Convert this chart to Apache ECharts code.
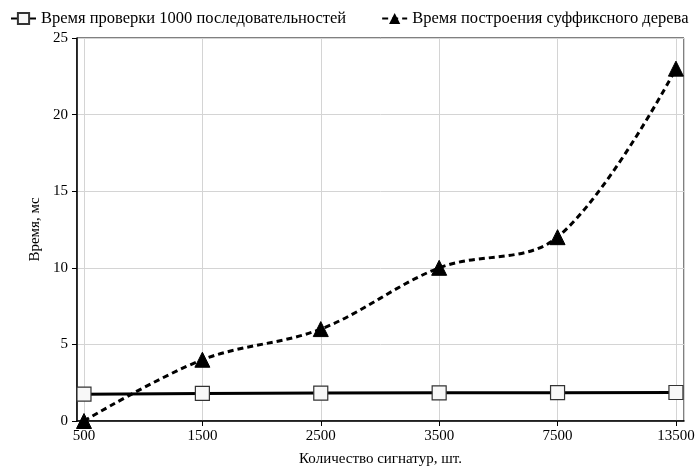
<!DOCTYPE html>
<html>
<head>
<meta charset="utf-8">
<script src="https://cdn.jsdelivr.net/npm/echarts@6/dist/echarts.min.js"></script>
<style>
html,body{margin:0;padding:0;background:#fff;}
#main{width:696px;height:468px;}
</style>
</head>
<body>
<div id="main"></div>
<script>
var categories = ['500', '1500', '2500', '3500', '7500', '13500'];
var checkTime = [1.75, 1.8, 1.82, 1.84, 1.85, 1.86];
var buildTime = [0, 4, 6, 10, 12, 23];
var yTicks = [0, 5, 10, 15, 20, 25];
var seriesNames = ['Время проверки 1000 последовательностей', 'Время построения суффиксного дерева'];

function pairs(arr) { return arr.map(function (v, i) { return [i, v]; }); }

var FONT = '"Liberation Serif", "Times New Roman", serif';
var chart = echarts.init(document.getElementById('main'), null, {renderer: 'canvas'});
chart.setOption({
  animation: false,
  backgroundColor: '#fff',
  textStyle: {fontFamily: FONT, color: '#000'},
  legend: {
    top: 10,
    left: 10,
    width: 690,
    itemGap: 35,
    itemWidth: 25,
    itemHeight: 14,
    padding: 0,
    textStyle: {fontFamily: FONT, fontSize: 16.5, color: '#000'},
    data: seriesNames
  },
  grid: {left: 77, right: 12, top: 38, bottom: 47, show: true, borderColor: '#000', borderWidth: 1, outerBoundsMode: 'none', containLabel: false},
  xAxis: {
    type: 'value',
    min: -0.059,
    max: 5.068,
    splitNumber: 5,
    name: 'Количество сигнатур, шт.',
    nameLocation: 'middle',
    nameGap: 31,
    nameTextStyle: {fontFamily: FONT, fontSize: 15, color: '#000'},
    axisLine: {show: true, onZero: false, lineStyle: {color: '#000', width: 1.5}},
    axisTick: {show: true, length: 5, lineStyle: {color: '#000'}},
    axisLabel: {
      showMinLabel: false, showMaxLabel: false,
      fontFamily: FONT, fontSize: 15, color: '#000', margin: 8,
      formatter: function (v) {
        var r = Math.round(v);
        return Math.abs(v - r) < 1e-6 && categories[r] !== undefined ? categories[r] : '';
      }
    },
    splitLine: {show: true, lineStyle: {color: '#d4d4d4', width: 1}}
  },
  yAxis: {
    type: 'value',
    min: yTicks[0],
    max: yTicks[yTicks.length - 1],
    interval: 5,
    name: 'Время, мс',
    nameLocation: 'middle',
    nameGap: 26,
    nameTextStyle: {fontFamily: FONT, fontSize: 15, color: '#000'},
    axisLine: {show: true, onZero: false, lineStyle: {color: '#000', width: 1.5}},
    axisTick: {show: true, length: 5, lineStyle: {color: '#000'}},
    axisLabel: {fontFamily: FONT, fontSize: 15, color: '#000', margin: 9},
    splitLine: {show: true, lineStyle: {color: '#d4d4d4', width: 1}}
  },
  series: [
    {
      name: seriesNames[0],
      type: 'line',
      data: pairs(checkTime),
      symbol: 'rect',
      symbolSize: 14,
      lineStyle: {color: '#000', width: 3},
      itemStyle: {color: '#f8f8f8', borderColor: '#333', borderWidth: 1.2},
      z: 3
    },
    {
      name: seriesNames[1],
      type: 'line',
      data: pairs(buildTime),
      smooth: 0.35,
      symbol: 'triangle',
      symbolSize: 15,
      lineStyle: {color: '#000', width: 3, type: [6, 4]},
      itemStyle: {color: '#000', borderColor: '#000'},
      z: 4
    }
  ]
});
</script>
</body>
</html>
